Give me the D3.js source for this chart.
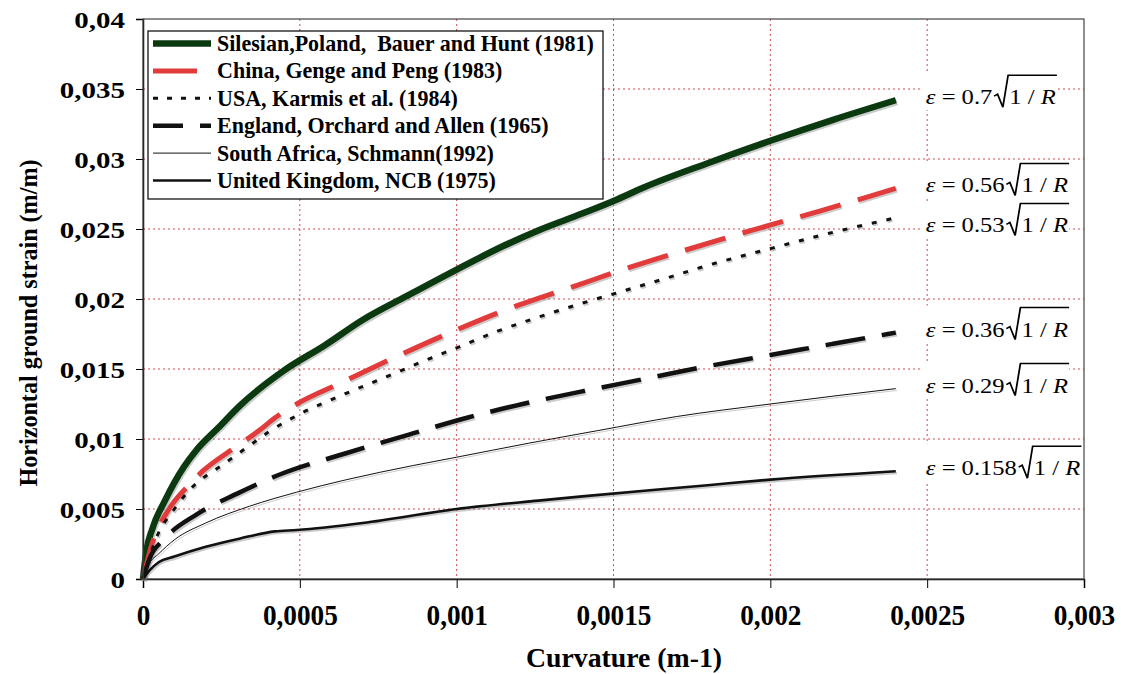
<!DOCTYPE html>
<html>
<head>
<meta charset="utf-8">
<script src="https://cdn.jsdelivr.net/npm/d3@7"></script>
<style>
  body { margin: 0; background: #fff; }
  svg { display: block; }
</style>
</head>
<body>
<svg id="chart" width="1121" height="674"></svg>
<script>
// Horizontal ground strain versus curvature, empirical relations by region.
const seriesNames = [
  "Silesian,Poland,  Bauer and Hunt (1981)",
  "China, Genge and Peng (1983)",
  "USA, Karmis et al. (1984)",
  "England, Orchard and Allen (1965)",
  "South Africa, Schmann(1992)",
  "United Kingdom, NCB (1975)"
];

// Coefficient of each relation  ε = k·√(1/R)
const coefficients = ["0.7", "0.56", "0.53", "0.36", "0.29", "0.158"];

// [curvature (1/m), strain (m/m)]
const silesian = [
  [0, 0], [0.00001, 0.0019], [0.00003, 0.0036], [0.00007, 0.0056], [0.00013, 0.0080],
  [0.00017, 0.0092], [0.00024, 0.0108], [0.00031, 0.0124], [0.00045, 0.0149],
  [0.00058, 0.0167], [0.0007, 0.0185], [0.00084, 0.0202], [0.001, 0.0221],
  [0.00115, 0.0238], [0.00126, 0.0249], [0.0014, 0.0261], [0.0015, 0.0270],
  [0.0016, 0.0280], [0.0018, 0.0297], [0.002, 0.0313], [0.0022, 0.0328], [0.0024, 0.0342]
];
const china = [
  [0, 0], [0.00003, 0.0026], [0.00008, 0.0049], [0.00015, 0.0068], [0.00019, 0.0077],
  [0.00028, 0.0092], [0.00037, 0.0106], [0.00042, 0.0115], [0.00049, 0.0125],
  [0.00063, 0.0140], [0.00079, 0.0157], [0.001, 0.0178], [0.00113, 0.0190],
  [0.0014, 0.0211], [0.00153, 0.0221], [0.00173, 0.0235], [0.00194, 0.0249],
  [0.00216, 0.0263], [0.0024, 0.0279]
];
const usa = [
  [0, 0], [0.00004, 0.0028], [0.0001, 0.0050], [0.00015, 0.0064], [0.00025, 0.0081],
  [0.0003, 0.0089], [0.00035, 0.0097], [0.0004, 0.0105], [0.00046, 0.0113],
  [0.00051, 0.0119], [0.00062, 0.0130], [0.00076, 0.0143], [0.00092, 0.0158],
  [0.00101, 0.0166], [0.00113, 0.0177], [0.00126, 0.0187], [0.0014, 0.0197],
  [0.00152, 0.0205], [0.00167, 0.0215], [0.0018, 0.0224], [0.002, 0.0236],
  [0.00217, 0.0246], [0.0024, 0.0258]
];
const england = [
  [0, 0], [0.00002, 0.0014], [0.00007, 0.0029], [0.00017, 0.0046], [0.0003, 0.0061],
  [0.00044, 0.0075], [0.00065, 0.0090], [0.00086, 0.0104], [0.00103, 0.0115],
  [0.00121, 0.0125], [0.0014, 0.0134], [0.0016, 0.0143], [0.0018, 0.0152],
  [0.002, 0.0160], [0.0022, 0.0168], [0.0024, 0.0176]
];
const southAfrica = [
  [0, 0], [0.00002, 0.0011], [0.00005, 0.0018], [0.0001, 0.0028], [0.0002, 0.0040],
  [0.00034, 0.0052], [0.00049, 0.0062], [0.00065, 0.0071], [0.00086, 0.0081],
  [0.001, 0.0087], [0.00123, 0.0097], [0.00145, 0.0106], [0.0017, 0.0116],
  [0.002, 0.0125], [0.0024, 0.0136]
];
const unitedKingdom = [
  [0, 0], [0.00002, 0.0006], [0.00005, 0.0012], [0.0001, 0.0016], [0.0002, 0.0023],
  [0.00031, 0.0029], [0.00042, 0.0034], [0.00049, 0.0035], [0.0007, 0.0040],
  [0.001, 0.0050], [0.00126, 0.0056], [0.0014, 0.0059], [0.0018, 0.0067],
  [0.002, 0.0071], [0.0024, 0.0077]
];

const xTicks = [0, 0.0005, 0.001, 0.0015, 0.002, 0.0025, 0.003];
const xTickLabels = ["0", "0,0005", "0,001", "0,0015", "0,002", "0,0025", "0,003"];
const yTicks = [0, 0.005, 0.01, 0.015, 0.02, 0.025, 0.03, 0.035, 0.04];
const yTickLabels = ["0", "0,005", "0,01", "0,015", "0,02", "0,025", "0,03", "0,035", "0,04"];

const allSeries = [silesian, china, usa, england, southAfrica, unitedKingdom];

const styles = [
  { color: "#0c3a10", width: 6.5, dash: null, legendDash: null, legendLen: 58 },
  { color: "#e23b3b", width: 5, dash: "42 18", legendDash: null, legendLen: 44 },
  { color: "#111", width: 3, dash: "5 10", legendDash: "5 9", legendLen: 58 },
  { color: "#111", width: 4.5, dash: "40 17", legendDash: "30 17", legendLen: 58 },
  { color: "#111", width: 1, dash: null, legendDash: null, legendLen: 58 },
  { color: "#111", width: 2.6, dash: null, legendDash: null, legendLen: 58 }
];

const SERIF = "'Liberation Serif', 'Times New Roman', serif";
const svg = d3.select("#chart");

const plot = { left: 143, right: 1084, top: 19, bottom: 579 };
const x = d3.scaleLinear().domain([0, 0.003]).range([plot.left, plot.right]);
const y = d3.scaleLinear().domain([0, 0.04]).range([plot.bottom, plot.top]);

// dotted red grid
const grid = svg.append("g").attr("stroke", "#d0494f").attr("stroke-width", 1)
  .attr("stroke-dasharray", "2 3");
grid.selectAll("line.v").data(xTicks.slice(1, -1)).join("line")
  .attr("x1", d => x(d)).attr("x2", d => x(d))
  .attr("y1", plot.top).attr("y2", plot.bottom);
grid.selectAll("line.h").data(yTicks.slice(1, -1)).join("line")
  .attr("x1", plot.left).attr("x2", plot.right)
  .attr("y1", d => y(d)).attr("y2", d => y(d));

// axes
const xAxis = svg.append("g").attr("transform", `translate(0,${plot.bottom})`)
  .call(d3.axisBottom(x).tickValues(xTicks).tickSize(9).tickPadding(0)
    .tickFormat((d, i) => xTickLabels[i]));
xAxis.select(".domain").attr("stroke", "#000").attr("stroke-width", 1.5);
xAxis.selectAll(".tick line").attr("stroke", "#000").attr("stroke-width", 1);
xAxis.selectAll(".tick text")
  .attr("font-family", SERIF).attr("font-weight", "bold").attr("font-size", 29)
  .attr("fill", "#000").attr("y", 46).attr("dy", 0)
  .attr("transform", "scale(0.94,1)");

const yAxis = svg.append("g").attr("transform", `translate(${plot.left},0)`)
  .call(d3.axisLeft(y).tickValues(yTicks).tickSize(7).tickPadding(0)
    .tickFormat((d, i) => yTickLabels[i]));
yAxis.select(".domain").attr("stroke", "#000").attr("stroke-width", 1.5);
yAxis.selectAll(".tick line").attr("stroke", "#000").attr("stroke-width", 1);
yAxis.selectAll(".tick text")
  .attr("font-family", SERIF).attr("font-weight", "bold").attr("font-size", 23)
  .attr("fill", "#000").attr("x", -18 / 1.26).attr("dy", 8)
  .attr("transform", "scale(1.26,1)");

// axis titles
svg.append("text")
  .attr("x", 624).attr("y", 667).attr("text-anchor", "middle")
  .attr("font-family", SERIF).attr("font-weight", "bold").attr("font-size", 27)
  .attr("textLength", 196).attr("lengthAdjust", "spacingAndGlyphs")
  .text("Curvature (m-1)");
svg.append("text")
  .attr("transform", "translate(37,323) rotate(-90)").attr("text-anchor", "middle")
  .attr("font-family", SERIF).attr("font-weight", "bold").attr("font-size", 25)
  .attr("textLength", 327).attr("lengthAdjust", "spacingAndGlyphs")
  .text("Horizontal ground strain (m/m)");

// curves
const line = d3.line().x(d => x(d[0])).y(d => y(d[1])).curve(d3.curveMonotoneX);
const curves = svg.append("g").attr("fill", "none")
  .attr("stroke-linejoin", "round");
allSeries.forEach((data, i) => {
  const s = styles[i];
  curves.append("path").datum(data).attr("d", line)
    .attr("transform", "translate(1.2,1.8)")
    .attr("stroke", "#8c8c8c").attr("stroke-opacity", 0.45)
    .attr("stroke-width", s.width).attr("stroke-dasharray", s.dash);
  curves.append("path").datum(data).attr("d", line)
    .attr("stroke", s.color).attr("stroke-width", s.width)
    .attr("stroke-dasharray", s.dash);
});

// equation labels at the end of each curve
const labelX = x(0.0024) + 30;
const labelY = [];
allSeries.forEach((data, i) => {
  let ly = y(data[data.length - 1][1]) + 4;
  if (i > 0 && ly < labelY[i - 1] + 40) ly = labelY[i - 1] + 40;
  labelY.push(ly);
});
const eqScale = 1.17;
coefficients.forEach((k, i) => {
  const g = svg.append("g")
    .attr("transform", `translate(${labelX},${labelY[i]}) scale(${eqScale},1)`);
  const bg = g.append("rect").attr("fill", "#fff");
  const t1 = g.append("text").attr("font-family", SERIF).attr("font-size", 21);
  t1.append("tspan").attr("font-style", "italic").text("ε");
  t1.append("tspan").text(" = " + k);
  const w1 = t1.node().getComputedTextLength();
  const rx = w1 + 1.5;
  const t2 = g.append("text").attr("font-family", SERIF).attr("font-size", 21)
    .attr("x", rx + 13);
  t2.append("tspan").text("1 / ");
  t2.append("tspan").attr("font-style", "italic").text("R");
  const w2 = t2.node().getComputedTextLength();
  const p = d3.path();
  p.moveTo(rx, -8);
  p.lineTo(rx + 3, -10);
  p.lineTo(rx + 7.5, 3);
  p.lineTo(rx + 12, -29);
  p.lineTo(rx + 13 + w2 + 1, -29);
  g.append("path").attr("d", p.toString()).attr("fill", "none")
    .attr("stroke", "#000").attr("stroke-width", 1.5).attr("stroke-linejoin", "miter");
  bg.attr("x", -3).attr("y", -31).attr("width", rx + 13 + w2 + 4).attr("height", 37);
});

// frame
svg.append("rect")
  .attr("x", plot.left).attr("y", plot.top)
  .attr("width", plot.right - plot.left).attr("height", plot.bottom - plot.top)
  .attr("fill", "none").attr("stroke", "#444").attr("stroke-width", 1.2);

// legend
const legend = svg.append("g");
legend.append("rect").attr("x", 148).attr("y", 31).attr("width", 455).attr("height", 168)
  .attr("fill", "#fff").attr("stroke", "#000").attr("stroke-width", 1.2);
const rowStep = 27.4;
const legendTexts = [];
seriesNames.forEach((name, i) => {
  const cy = 43.5 + i * rowStep;
  const s = styles[i];
  legend.append("line")
    .attr("x1", 153).attr("x2", 153 + s.legendLen).attr("y1", cy).attr("y2", cy)
    .attr("stroke", s.color).attr("stroke-width", s.width)
    .attr("stroke-dasharray", s.legendDash);
  const t = legend.append("text")
    .attr("font-family", SERIF).attr("font-weight", "bold").attr("font-size", 23)
    .style("white-space", "pre")
    .text(name);
  legendTexts.push([t, cy]);
});
const natural = legendTexts[0][0].node().getComputedTextLength();
const legendScale = 377 / natural;
legendTexts.forEach(([t, cy]) => {
  t.attr("transform", `translate(217,${cy + 7.5}) scale(${legendScale},1)`);
});
</script>
</body>
</html>
